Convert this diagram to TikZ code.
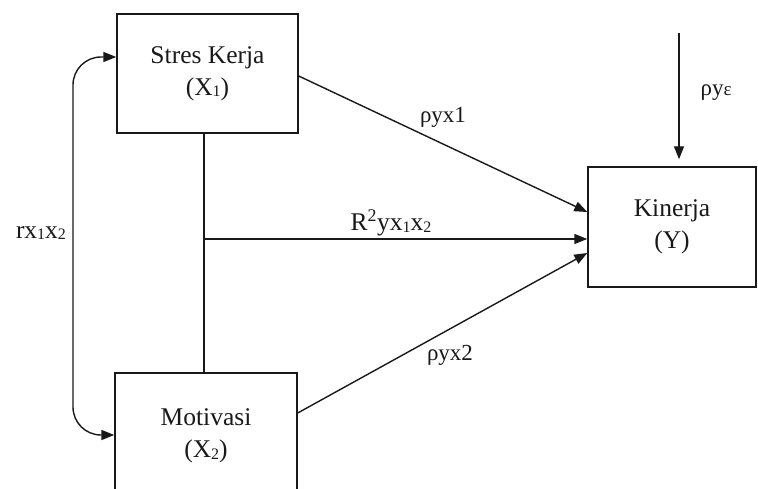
\documentclass[tikz,border=0pt]{standalone}
\usepackage{fontspec}
\setmainfont{Liberation Serif}
\usetikzlibrary{arrows.meta,calc}
\definecolor{ink}{RGB}{25,25,25}
\newcommand\boxfont{\fontsize{25.5}{32}\selectfont}
\newcommand\labfont{\fontsize{23}{26}\selectfont}
\newcommand\sbs[1]{\raisebox{-1.5pt}{\fontsize{16}{16}\selectfont #1}}
\begin{document}
\begin{tikzpicture}[x=1pt,y=-1pt,
  box/.style={draw=ink, line width=1.4pt, align=center, font=\boxfont, text=ink, inner sep=0pt},
  arr/.style={draw=ink, line width=1.4pt, -{Triangle[length=13pt,width=10pt]}},
  plain/.style={draw=ink, line width=1.4pt},
  lab/.style={font=\labfont, text=ink, inner sep=0pt}]
\useasboundingbox (0,0) rectangle (758,489);
\node[box, minimum width=181pt, minimum height=119pt] (X1) at (207.5,73.5) {Stres Kerja\\(X\sbs{1})};
\node[box, minimum width=182pt, minimum height=126pt] (X2) at (206,436) {Motivasi\\(X\sbs{2})};
\node[box, minimum width=168pt, minimum height=120pt] (Y) at (672,227) {Kinerja\\(Y)};
\coordinate (j) at (204,239);
\coordinate (e) at (679,33);
\coordinate (lx) at (73,0);
\draw[plain] (X1.south -| j) -- (X2.north -| j);
\draw[arr] (j) -- (Y.west |- j);
\draw[arr] ($(X1.east)+(0,2.5)$) -- ($(Y.west)+(0,-15)$);
\draw[arr] ($(X2.east)+(0,-23)$) -- ($(Y.west)+(0,26)$);
\draw[arr, shorten >=7pt] (e) -- (Y.north -| e);
\coordinate (a) at ($(X1.west)+(0,-16.5)$);
\coordinate (b) at ($(X2.west)+(0,-1)$);
\draw[plain, {Triangle[length=13pt,width=10pt]}-{Triangle[length=13pt,width=10pt]}, rounded corners=28pt] (a) -| (lx |- b) -- (b);
\node[lab] (l1) at (443,117) {ρyx1};
\node[lab] (l2) at (450,355) {ρyx2};
\node[lab, font=\boxfont] (l3) at (391,223) {R\textsuperscript{2}yx\sbs{1}x\sbs{2}};
\node[lab] (l4) at (716,93) {ρy{\fontsize{19}{19}\selectfont ε}};
\node[lab, font=\boxfont] (l5) at (41,233) {rx\sbs{1}x\sbs{2}};
\end{tikzpicture}
\end{document}
